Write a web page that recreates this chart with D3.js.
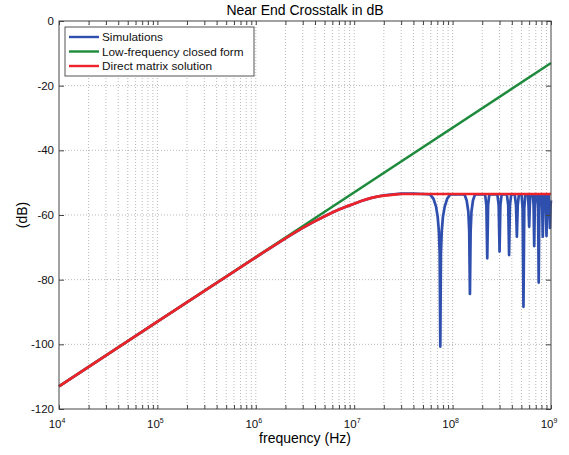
<!DOCTYPE html>
<html>
<head>
<meta charset="utf-8">
<script src="https://cdn.jsdelivr.net/npm/d3@7"></script>
<style>
  body { margin: 0; background: #fff; }
  svg { display: block; font-family: "Liberation Sans", Arial, sans-serif; }
  .grid line { stroke: #b8b8b8; stroke-dasharray: 1,2; }
</style>
</head>
<body>
<div id="chart"></div>
<script>
// tick labels
const xTickExps = [4, 5, 6, 7, 8, 9];
const yTicks = [0, -20, -40, -60, -80, -100, -120];

// low-frequency closed form (straight line on log axis)
const lfFreq = [1e4, 1e9];
const lfDb = [-113, -13];

// direct matrix solution
const dmFreq = [1e4, 1e5, 1e6, 2e6, 3e6, 4e6, 5e6, 6e6, 7e6, 8e6, 1e7, 1.2e7, 1.5e7, 2e7, 2.5e7, 3e7, 5e7, 1e8, 3e8, 1e9];
const dmDb = [-113, -93, -73.1, -67.2, -64.0, -61.9, -60.4, -59.2, -58.3, -57.6, -56.5, -55.6, -54.7, -54.0, -53.7, -53.5, -53.5, -53.5, -53.5, -53.5];

// simulations
const simFreq = [
  1e4, 1e5, 1e6, 2e6, 3e6, 4e6, 5e6, 6e6, 7e6, 8e6, 1e7, 1.2e7, 1.5e7, 2e7, 2.5e7, 3e7, 4e7, 5e7,
  5.9e7, 6.4e7, 6.8e7, 7.05e7, 7.25e7, 7.39e7, 7.5e7, 7.61e7, 7.76e7, 7.98e7, 8.3e7, 8.8e7, 9.5e7,
  1.32e8, 1.39e8, 1.445e8, 1.475e8, 1.5e8, 1.525e8, 1.555e8, 1.61e8, 1.69e8,
  2.14e8, 2.205e8, 2.25e8, 2.295e8, 2.36e8,
  2.85e8, 2.94e8, 3.0e8, 3.06e8, 3.15e8,
  3.56e8, 3.675e8, 3.75e8, 3.825e8, 3.94e8,
  4.28e8, 4.41e8, 4.5e8, 4.59e8, 4.72e8,
  5.02e8, 5.15e8, 5.25e8, 5.35e8, 5.48e8,
  5.82e8, 5.91e8, 6.0e8, 6.09e8, 6.18e8,
  6.55e8, 6.65e8, 6.75e8, 6.85e8, 6.95e8,
  7.28e8, 7.39e8, 7.5e8, 7.61e8, 7.72e8,
  8.0e8, 8.13e8, 8.25e8, 8.37e8, 8.5e8,
  8.73e8, 8.87e8, 9.0e8, 9.13e8, 9.27e8,
  9.46e8, 9.6e8, 9.75e8, 9.9e8, 1e9
];
const simDb = [
  -113, -93, -73.1, -67.2, -64.0, -61.9, -60.4, -59.2, -58.3, -57.6, -56.5, -55.6, -54.7, -53.9, -53.6, -53.4, -53.4, -53.5,
  -53.6, -55, -57.5, -60.5, -65, -72, -100.7, -72, -65, -60.5, -57.5, -55, -53.6,
  -53.6, -55.5, -59, -65, -84.4, -65, -59, -55.5, -53.6,
  -53.6, -57, -73.4, -57, -53.6,
  -53.6, -57, -71.3, -57, -53.6,
  -53.6, -57, -72.4, -57, -53.6,
  -53.6, -57, -66.7, -57, -53.6,
  -53.6, -58, -88.4, -58, -53.6,
  -53.6, -57, -63.6, -57, -53.6,
  -53.6, -57, -69.6, -57, -53.6,
  -53.6, -58, -80.9, -58, -53.6,
  -53.6, -57, -66.7, -57, -53.6,
  -53.6, -57, -66.5, -57, -53.6,
  -53.6, -57, -64.0, -57, -55.5
];

const W = 569, H = 455;
const m = { left: 59, right: 551, top: 21, bottom: 409 };

const svg = d3.select("#chart").append("svg")
  .attr("width", W).attr("height", H);

const x = d3.scaleLog().domain([1e4, 1e9]).range([m.left, m.right]);
const y = d3.scaleLinear().domain([-120, 0]).range([m.bottom, m.top]);

// minor + major decade positions
const xAll = [];
xTickExps.forEach(e => {
  for (let k = 1; k <= 9; k++) {
    const v = k * Math.pow(10, e);
    if (v <= 1e9) xAll.push(v);
  }
});

// grid
const grid = svg.append("g").attr("class", "grid");
grid.selectAll("line.v")
  .data(xAll.filter(v => v > 1e4 && v < 1e9))
  .join("line")
  .attr("x1", d => x(d)).attr("x2", d => x(d))
  .attr("y1", m.top).attr("y2", m.bottom);
grid.selectAll("line.h")
  .data(yTicks.filter(v => v > -120 && v < 0))
  .join("line")
  .attr("x1", m.left).attr("x2", m.right)
  .attr("y1", d => y(d)).attr("y2", d => y(d));

// lines
const line = d3.line().x(d => x(d[0])).y(d => y(d[1]));
const smooth = d3.line().curve(d3.curveMonotoneX).x(d => x(d[0])).y(d => y(d[1]));
const sim = d3.zip(simFreq, simDb);
const lf = d3.zip(lfFreq, lfDb);
const dm = d3.zip(dmFreq, dmDb);

const plot = svg.append("g");
plot.append("path").datum(sim).attr("d", line)
  .attr("fill", "none").attr("stroke", "#2f4fae").attr("stroke-width", 2.7)
  .attr("stroke-linejoin", "round");
plot.append("path").datum(lf).attr("d", line)
  .attr("fill", "none").attr("stroke", "#1d8a3c").attr("stroke-width", 2.4);
plot.append("path").datum(dm).attr("d", smooth)
  .attr("fill", "none").attr("stroke", "#ee2229").attr("stroke-width", 2.7);

// axes (ticks inward, box)
const tickCol = "#444";
function styleAxis(g) {
  g.select(".domain").remove();
  g.selectAll(".tick line").attr("stroke", tickCol);
  g.selectAll(".tick text").remove();
}
svg.append("g").attr("transform", `translate(0,${m.bottom})`)
  .call(d3.axisBottom(x).tickValues(xAll).tickSize(-4)).call(styleAxis);
svg.append("g").attr("transform", `translate(0,${m.top})`)
  .call(d3.axisTop(x).tickValues(xAll).tickSize(-4)).call(styleAxis);
svg.append("g").attr("transform", `translate(${m.left},0)`)
  .call(d3.axisLeft(y).tickValues(yTicks).tickSize(-5)).call(styleAxis);
svg.append("g").attr("transform", `translate(${m.right},0)`)
  .call(d3.axisRight(y).tickValues(yTicks).tickSize(-5)).call(styleAxis);

svg.append("rect")
  .attr("x", m.left).attr("y", m.top)
  .attr("width", m.right - m.left).attr("height", m.bottom - m.top)
  .attr("fill", "none").attr("stroke", tickCol).attr("stroke-width", 1);

// tick labels
svg.append("g").selectAll("text")
  .data(yTicks).join("text")
  .attr("x", m.left - 5).attr("y", d => y(d) + 4)
  .attr("text-anchor", "end").attr("font-size", 11.5).attr("fill", "#111")
  .text(d => d);

const xl = svg.append("g").selectAll("text")
  .data(xTickExps).join("text")
  .attr("x", d => x(Math.pow(10, d)) - 2).attr("y", m.bottom + 19)
  .attr("text-anchor", "middle").attr("font-size", 11.5).attr("fill", "#111");
xl.append("tspan").text("10");
xl.append("tspan").attr("dy", -5).attr("font-size", 7).text(d => d);

// titles
svg.append("text").attr("x", 305).attr("y", 15)
  .attr("text-anchor", "middle").attr("font-size", 14).attr("fill", "#000")
  .text("Near End Crosstalk in dB");
svg.append("text").attr("x", 305).attr("y", 443)
  .attr("text-anchor", "middle").attr("font-size", 14).attr("fill", "#000")
  .text("frequency (Hz)");
svg.append("text")
  .attr("transform", `translate(27,${(m.top + m.bottom) / 2}) rotate(-90)`)
  .attr("text-anchor", "middle").attr("font-size", 14).attr("fill", "#000")
  .text("(dB)");

// legend
const legNames = ["Simulations", "Low-frequency closed form", "Direct matrix solution"];
const legColors = ["#2f4fae", "#1d8a3c", "#ee2229"];
const leg = svg.append("g").attr("transform", "translate(65,27)");
leg.append("rect").attr("width", 189).attr("height", 49)
  .attr("fill", "#fff").attr("stroke", "#555").attr("stroke-width", 1);
const items = leg.selectAll("g.item").data(legNames).join("g")
  .attr("transform", (d, i) => `translate(0,${10 + i * 14.5})`);
items.append("line").attr("x1", 4).attr("x2", 34)
  .attr("stroke", (d, i) => legColors[i]).attr("stroke-width", 2.4);
items.append("text").attr("x", 37).attr("y", 4)
  .attr("font-size", 11.8).attr("fill", "#111").text(d => d);
</script>
</body>
</html>
